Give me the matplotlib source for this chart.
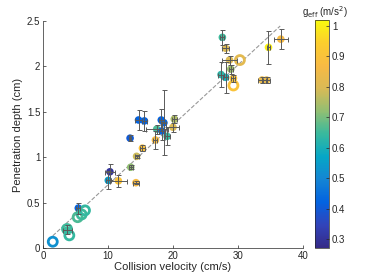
import numpy as np
import matplotlib
matplotlib.use('Agg')
import matplotlib.pyplot as plt
from matplotlib.colors import LinearSegmentedColormap

plt.rcParams['font.family'] = ['Liberation Sans', 'DejaVu Sans']

# filled points with error bars: velocity (cm/s), depth (cm), errors, g_eff (m/s^2)
vel = [27.6, 28.1, 28.7, 28.9, 27.4, 28.1, 29.3, 33.7, 34.4, 34.7, 36.6,
       14.7, 15.6, 18.2, 18.6, 17.5, 18.3, 20.2, 20.0, 19.1, 13.4, 17.3,
       15.3, 14.4, 13.5, 10.3, 10.05, 11.6, 14.3, 5.43, 3.7]
depth = [2.32, 2.20, 2.07, 1.97, 1.91, 1.88, 1.87, 1.85, 1.85, 2.21, 2.30,
         1.41, 1.40, 1.41, 1.38, 1.31, 1.29, 1.42, 1.33, 1.23, 1.21, 1.19,
         1.10, 1.01, 0.89, 0.84, 0.745, 0.74, 0.72, 0.44, 0.20]
vel_err = [0.3, 0.5, 1.2, 0.3, 0.4, 0.4, 0.3, 0.6, 0.6, 0.3, 1.1,
           0.6, 0.4, 0.4, 0.3, 1.7, 0.4, 0.4, 1.0, 0.4, 0.2, 0.3,
           0.4, 0.3, 0.3, 0.8, 0.4, 1.3, 0.4, 0.3, 0.7]
depth_err = [0.08, 0.05, 0.05, 0.05, 0.14, 0.17, 0.04, 0.03, 0.03, 0.18, 0.11,
             0.11, 0.11, 0.12, 0.36, 0.05, 0.10, 0.04, 0.05, 0.10, 0.03, 0.10,
             0.03, 0.02, 0.02, 0.09, 0.10, 0.07, 0.02, 0.06, 0.05]
g_eff = [0.65, 0.80, 0.80, 0.73, 0.63, 0.60, 0.90, 0.83, 0.83, 1.0, 0.86,
         0.42, 0.42, 0.42, 0.42, 0.66, 0.42, 0.75, 0.80, 0.64, 0.40, 0.87,
         0.89, 0.78, 0.72, 0.30, 0.55, 0.90, 0.87, 0.42, 0.65]

# open circles (no error bars)
vel_open = [1.5, 3.7, 4.05, 5.33, 5.95, 6.46, 29.3, 30.3]
depth_open = [0.07, 0.21, 0.14, 0.34, 0.37, 0.415, 1.79, 2.07]
g_open = [0.52, 0.65, 0.64, 0.66, 0.65, 0.64, 0.90, 0.82]

# dashed trend line
line_v = [1.5, 36.5]
line_d = [0.135, 2.445]

# approx. parula
parula = LinearSegmentedColormap.from_list('parula', [
    (0.2081, 0.1663, 0.5292), (0.1959, 0.2645, 0.7279), (0.0117, 0.3875, 0.8820),
    (0.0793, 0.5200, 0.8312), (0.0228, 0.6535, 0.7768), (0.2178, 0.7250, 0.6193),
    (0.5709, 0.7485, 0.4494), (0.8507, 0.7299, 0.3360), (0.9739, 0.7314, 0.2666),
    (0.9880, 0.8066, 0.1794), (0.9763, 0.9831, 0.0538)])
vmin, vmax = 0.27, 1.02

fig = plt.figure(figsize=(3.74, 2.80), dpi=100)
ax = fig.add_axes([0.115, 0.114, 0.695, 0.811])

ax.plot(line_v, line_d, '--', color='0.6', lw=0.8, zorder=1)

sc = ax.scatter(vel, depth, c=g_eff, cmap=parula, vmin=vmin, vmax=vmax,
                s=30, edgecolors='none', zorder=2)
ax.errorbar(vel, depth, xerr=vel_err, yerr=depth_err, fmt='none',
            ecolor='0.35', elinewidth=0.7, capsize=1.8, capthick=0.7, zorder=3)

ax.scatter(vel_open, depth_open, s=42, facecolors='none',
           edgecolors=parula((np.array(g_open) - vmin) / (vmax - vmin)),
           linewidths=2.0, zorder=2)

ax.set_xlim(0, 40)
ax.set_ylim(0, 2.5)
ax.set_xticks([0, 10, 20, 30, 40])
ax.set_yticks([0, 0.5, 1, 1.5, 2, 2.5])
ax.set_yticklabels(['0', '0.5', '1', '1.5', '2', '2.5'])
ax.tick_params(direction='in', length=2.5, width=0.5, labelsize=7,
               colors='0.15', pad=2)
for s in ['top', 'right']:
    ax.spines[s].set_visible(False)
for s in ['left', 'bottom']:
    ax.spines[s].set_linewidth(0.5)
    ax.spines[s].set_color('0.15')
ax.set_xlabel('Collision velocity (cm/s)', fontsize=8, color='0.15', labelpad=1)
ax.set_ylabel('Penetration depth (cm)', fontsize=8, color='0.15', labelpad=3)

cax = fig.add_axes([0.842, 0.114, 0.038, 0.815])
cb = fig.colorbar(sc, cax=cax)
cb.set_ticks([0.3, 0.4, 0.5, 0.6, 0.7, 0.8, 0.9, 1.0])
cb.set_ticklabels(['0.3', '0.4', '0.5', '0.6', '0.7', '0.8', '0.9', '1'])
cb.ax.tick_params(direction='in', length=2, width=0.5, labelsize=7,
                  colors='0.15', pad=2)
cb.outline.set_linewidth(0.5)
cb.outline.set_edgecolor('0.15')
fig.text(0.87, 0.955, r'g$_{\rm eff}$ (m/s$^2$)', fontsize=7, color='0.15',
         ha='center', va='center')

fig.savefig('out.png', dpi=100)
